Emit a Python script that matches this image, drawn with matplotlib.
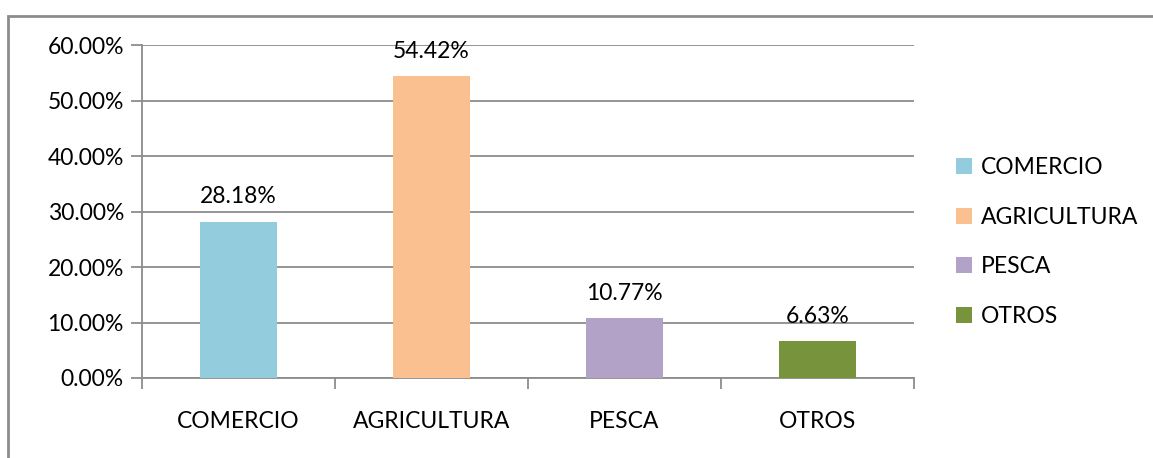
import matplotlib.pyplot as plt
from matplotlib.patches import Patch, Rectangle

categories = ["COMERCIO", "AGRICULTURA", "PESCA", "OTROS"]
values = [28.18, 54.42, 10.77, 6.63]
colors = ["#93CDDD", "#FAC090", "#B3A2C7", "#77933C"]
yticks = [0, 10, 20, 30, 40, 50, 60]

plt.rcParams["font.family"] = ["Lato", "DejaVu Sans"]
FS = 16.5

fig = plt.figure(figsize=(11.53, 4.58), dpi=100)
ax = fig.add_axes([142 / 1153, 1 - 378 / 458, (914 - 142) / 1153, (378 - 45) / 458])

# outer chart frame (cut off at right and bottom)
fig.patches.append(Rectangle((8 / 1153, -0.1), 1.2, 1 - 16 / 458 + 0.1,
                             transform=fig.transFigure, fill=False,
                             edgecolor="#8c8c8c", linewidth=2))

x = range(len(categories))
bars = ax.bar(x, values, width=0.4, color=colors, zorder=3)
for xi, v in zip(x, values):
    ax.text(xi, v + 2.6, f"{v:.2f}%", ha="center", va="bottom", fontsize=FS)

ax.set_xlim(-0.5, len(categories) - 0.5)
ax.set_ylim(0, 60)
ax.set_yticks(yticks)
ax.set_yticklabels([f"{t:.2f}%" for t in yticks], fontsize=FS)
ax.yaxis.grid(True, color="#8c8c8c", linewidth=1.3, zorder=0)
ax.set_axisbelow(True)

ax.set_xticks(list(x))
ax.set_xticklabels(categories, fontsize=FS)
ax.set_xticks([i - 0.5 for i in range(len(categories) + 1)], minor=True)
ax.tick_params(axis="x", which="major", length=0, pad=24)
ax.tick_params(axis="x", which="minor", length=8, width=1.3, color="#8c8c8c")
ax.tick_params(axis="y", length=8, width=1.3, color="#8c8c8c", pad=5)

for side in ["top", "right"]:
    ax.spines[side].set_visible(False)
for side in ["left", "bottom"]:
    ax.spines[side].set_color("#8c8c8c")
    ax.spines[side].set_linewidth(1.3)

handles = [Patch(facecolor=c, label=l) for c, l in zip(colors, categories)]
fig.legend(handles=handles, loc="center left", bbox_to_anchor=(935 / 1153, 1 - 242 / 458),
           frameon=False, fontsize=FS, handlelength=0.7, handleheight=0.7,
           handletextpad=0.4, labelspacing=1.25)

fig.savefig("out.png", dpi=100)
